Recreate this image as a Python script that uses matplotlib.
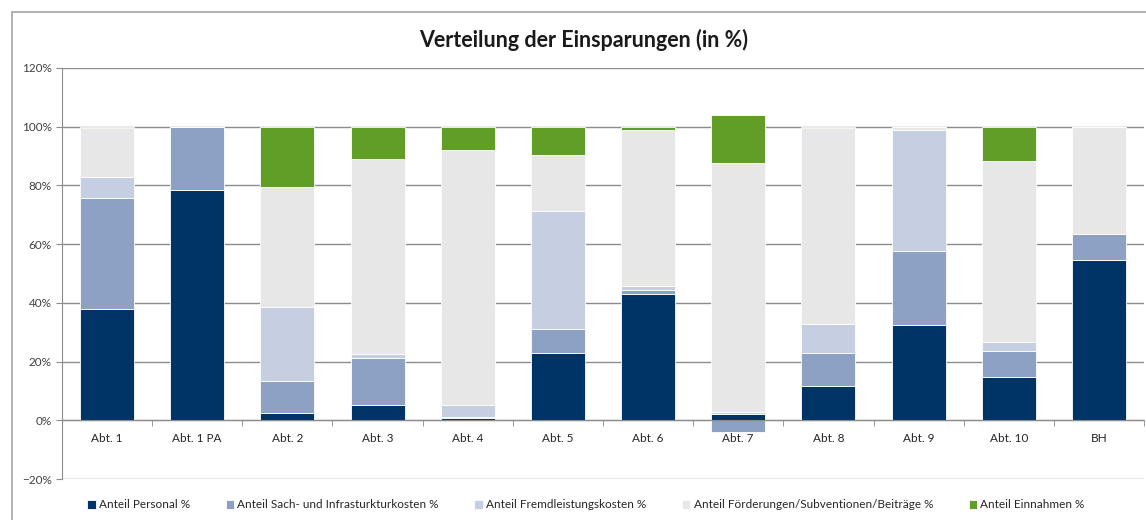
import numpy as np
import matplotlib
matplotlib.use('Agg')
import matplotlib.pyplot as plt
from matplotlib.patches import Rectangle
from matplotlib.ticker import PercentFormatter, FixedLocator

plt.rcParams['font.family'] = ['Lato', 'DejaVu Sans']

#---DATA
categories = ['Abt. 1', 'Abt. 1 PA', 'Abt. 2', 'Abt. 3', 'Abt. 4', 'Abt. 5',
              'Abt. 6', 'Abt. 7', 'Abt. 8', 'Abt. 9', 'Abt. 10', 'BH']
personal   = [38.0, 78.4,  2.5,  5.1,  0.8, 22.8, 43.1,  2.2, 11.7, 32.3, 14.9, 54.7]
sach       = [37.8, 21.6, 10.9, 16.1,  0.3,  8.2,  1.2, -4.1, 11.1, 25.5,  8.7,  8.6]
fremd      = [ 7.0,  0.0, 25.1,  1.5,  4.1, 40.4,  1.5,  0.6, 10.0, 41.2,  3.1,  0.0]
foerder    = [16.6,  0.0, 41.0, 66.4, 86.7, 19.1, 53.2, 84.8, 66.6,  1.0, 61.7, 36.7]
einnahmen  = [ 0.6,  0.0, 20.5, 10.9,  8.1,  9.5,  1.0, 16.3,  0.6,  0.0, 11.6,  0.0]

series_names = ['Anteil Personal %', 'Anteil Sach- und Infrasturkturkosten %',
                'Anteil Fremdleistungskosten %',
                'Anteil Förderungen/Subventionen/Beiträge %', 'Anteil Einnahmen %']
series_colors = ['#003466', '#8DA1C4', '#C6CFE2', '#E7E7E7', '#619E28']
yticks = [-20, 0, 20, 40, 60, 80, 100, 120]

#---FIGURE
fig = plt.figure(figsize=(11.46, 5.2), dpi=100)
# chart area frame (cut off at right and bottom like the screenshot)
fig.patches.append(Rectangle((12 / 1146, -0.1), 1.2, (520 - 12) / 520 + 0.1,
                             transform=fig.transFigure, fill=False,
                             edgecolor='#A6A6A6', lw=1.2))

ax = fig.add_axes([62 / 1146, 41 / 520, 1082 / 1146, 411 / 520])
x = np.arange(len(categories))

# excel style stacking: positives upwards, negatives downwards from 0
pos_base = np.zeros(len(categories))
neg_base = np.zeros(len(categories))
for vals, name, col in zip([personal, sach, fremd, foerder, einnahmen],
                           series_names, series_colors):
    v = np.array(vals)
    base = np.where(v >= 0, pos_base, neg_base)
    ax.bar(x, v, bottom=base, width=0.6, color=col, edgecolor='white',
           linewidth=0.6, label=name, zorder=3)
    pos_base = pos_base + np.where(v >= 0, v, 0)
    neg_base = neg_base + np.where(v < 0, v, 0)

ax.set_xlim(-0.5, len(categories) - 0.5)
ax.set_ylim(-20, 120)
ax.set_yticks(yticks)
ax.yaxis.set_major_formatter(PercentFormatter(decimals=0))
ax.grid(axis='y', color='#8C8C8C', lw=1, zorder=0)
ax.set_axisbelow(True)

for s in ['top', 'right']:
    ax.spines[s].set_visible(False)
ax.spines['left'].set_color('#8C8C8C')
ax.spines['bottom'].set_position(('data', 0))
ax.spines['bottom'].set_color('#8C8C8C')
ax.spines['bottom'].set_zorder(4)

ax.set_xticks(x)
ax.set_xticklabels(categories)
ax.xaxis.set_minor_locator(FixedLocator(np.arange(len(categories) + 1) - 0.5))
ax.tick_params(axis='x', which='major', length=0, pad=9, labelsize=8.5)
ax.tick_params(axis='x', which='minor', length=4, color='#8C8C8C')
ax.tick_params(axis='y', length=4, color='#8C8C8C', labelsize=8.5, labelcolor='#404040')
for lab in ax.get_xticklabels():
    lab.set_color('#262626')

fig.text(584 / 1146, 1 - 40 / 520, 'Verteilung der Einsparungen (in %)',
         ha='center', va='center', fontsize=15.5, fontweight='bold', color='#1a1a1a')

handles, labels = ax.get_legend_handles_labels()
fig.legend(handles, labels, loc='center', bbox_to_anchor=(586 / 1146, 1 - 505 / 520),
           ncol=5, frameon=False, fontsize=8.5, handlelength=0.7, handleheight=0.7,
           handletextpad=0.3, columnspacing=3.0, labelcolor='#262626')

fig.savefig('out.png', dpi=100)
